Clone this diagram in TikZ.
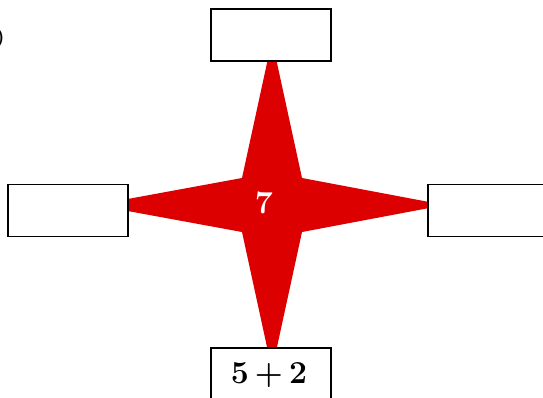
\documentclass[tikz,border=0pt]{standalone}
\usepackage{amsmath}
\usepackage{xcolor}
\usepackage{tikz}
\definecolor{starred}{RGB}{220,0,0}
\tikzset{
  answerbox/.style={draw,line width=1.8pt,fill=white,minimum width=120pt,minimum height=52pt,inner sep=0pt},
  bignum/.style={font=\fontsize{32}{38}\selectfont\bfseries}
}
\begin{document}
\begin{tikzpicture}[x=1pt,y=-1pt]
  \useasboundingbox (0,0) rectangle (543,397);
  \fill[starred] (272,40) -- (302,178) -- (445,205) -- (302,232) -- (272,370)
    -- (242,232) -- (95,205) -- (242,178) -- cycle;
  \node[bignum,text=white,anchor=base] (centre) at (264,213) {7};
  \node[answerbox] (top) at (271,35) {};
  \node[answerbox] (left) at (68,210.5) {};
  \node[answerbox,anchor=west] (right) at (427,210.5) {};
  \node[answerbox,anchor=north,minimum height=60pt] (bottom) at (271,347) {};
  \node[bignum,anchor=base] at (269,383) {5\hspace{6pt}+\hspace{6pt}2};
  \node[font=\fontsize{21}{25}\selectfont\bfseries,anchor=east,inner sep=0pt] (label) at (5,38) {)};
\end{tikzpicture}
\end{document}
